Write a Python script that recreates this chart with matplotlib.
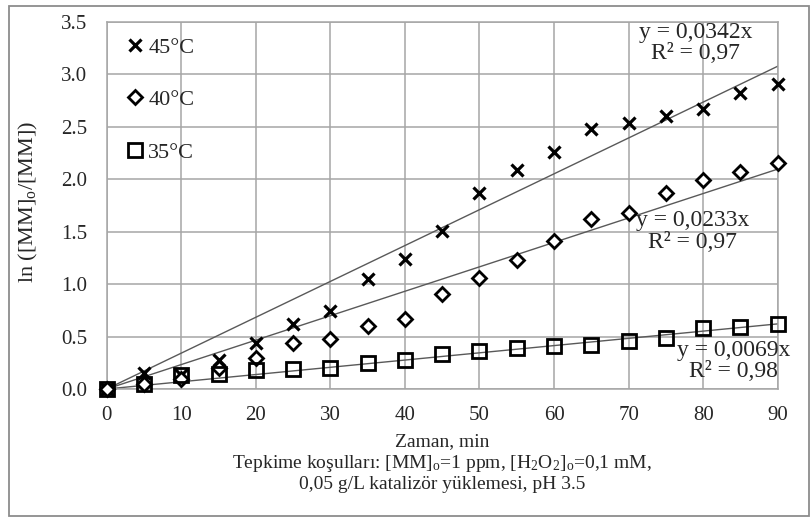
import matplotlib
matplotlib.use("Agg")
import matplotlib.pyplot as plt
import numpy as np
from matplotlib.patches import Rectangle

plt.rcParams['font.family'] = ['Liberation Serif', 'DejaVu Serif']
plt.rcParams['mathtext.fontset'] = 'custom'
plt.rcParams['mathtext.rm'] = 'Liberation Serif'
plt.rcParams['mathtext.it'] = 'Liberation Serif:italic'

time_min = [0, 5, 10, 15, 20, 25, 30, 35, 40, 45, 50, 55, 60, 65, 70, 75, 80, 85, 90]
ln_45 = [0, 0.15, 0.13, 0.28, 0.44, 0.62, 0.74, 1.05, 1.24, 1.51, 1.87, 2.09, 2.26,
         2.48, 2.54, 2.60, 2.67, 2.82, 2.91]
ln_40 = [0, 0.05, 0.10, 0.20, 0.30, 0.44, 0.48, 0.60, 0.67, 0.91, 1.06, 1.23, 1.41,
         1.62, 1.68, 1.87, 1.99, 2.07, 2.16]
ln_35 = [0, 0.05, 0.13, 0.14, 0.18, 0.19, 0.20, 0.25, 0.28, 0.33, 0.36, 0.39, 0.41,
         0.42, 0.46, 0.49, 0.58, 0.59, 0.62]
labels = ['45°C', '40°C', '35°C']
slopes = [0.0342, 0.0233, 0.0069]
eq_texts = ['y = 0,0342x\nR² = 0,97', 'y = 0,0233x\nR² = 0,97', 'y = 0,0069x\nR² = 0,98']
x_ticks = [0, 10, 20, 30, 40, 50, 60, 70, 80, 90]
y_ticks = [0.0, 0.5, 1.0, 1.5, 2.0, 2.5, 3.0, 3.5]

W, H = 810, 518
fig = plt.figure(figsize=(W / 100, H / 100), dpi=100)
ax = fig.add_axes([106.7 / W, 1 - 389 / H, (777.7 - 106.7) / W, (389 - 22) / H])

grid_c = '#a6a6a6'
text_c = '#262626'
ax.set_xlim(0, 90)
ax.set_ylim(0, 3.5)
ax.set_xticks(x_ticks)
ax.set_yticks(y_ticks)
ax.set_xticklabels([str(v) for v in x_ticks])
ax.set_yticklabels([f'{v:.1f}' for v in y_ticks])
ax.grid(True, color=grid_c, linewidth=1.1)
ax.set_axisbelow(True)
for s in ax.spines.values():
    s.set_color(grid_c)
    s.set_linewidth(1.1)
ax.tick_params(length=0, labelsize=15, colors=text_c)
ax.tick_params(axis='y', pad=14)
ax.tick_params(axis='x', pad=12)

xs = np.array(time_min, dtype=float)
line_x = np.array([0, 90])
for k in slopes:
    ax.plot(line_x, k * line_x, color='#595959', linewidth=1.0, zorder=2)

ax.plot(xs, ln_45, linestyle='none', marker='x', markersize=9, mew=2.3,
        color='black', label=labels[0], clip_on=False, zorder=3)
ax.plot(xs, ln_40, linestyle='none', marker='D', markersize=7, mew=2.0,
        markerfacecolor='white', markeredgecolor='black', label=labels[1], clip_on=False, zorder=3)
ax.plot(xs, ln_35, linestyle='none', marker='s', markersize=10, mew=2.0,
        markerfacecolor='none', markeredgecolor='black', label=labels[2], clip_on=False, zorder=3)

leg = ax.legend(loc='upper left', bbox_to_anchor=(0.0156, 0.983), frameon=False,
                fontsize=16, handlelength=0.8, handletextpad=0.2, labelspacing=1.44,
                borderaxespad=0.0)
for t in leg.get_texts():
    t.set_color(text_c)

eq_pos = [(79.0, 3.30), (78.6, 1.50), (84.1, 0.267)]
for (ex, ey), txt in zip(eq_pos, eq_texts):
    ax.text(ex, ey, txt, ha='center', va='center', fontsize=17,
            color=text_c, linespacing=1.05)

fig.text(28 / W, 1 - 202 / H, r'ln ([MM]$_\mathrm{o}$/[MM])', rotation=90,
         ha='center', va='center', fontsize=16, color=text_c)
fig.text(442 / W, 1 - 463 / H,
         'Zaman, min\n'
         r'Tepkime koşulları: [MM]$_\mathrm{o}$=1 ppm, [H$_\mathrm{2}$O$_\mathrm{2}$]$_\mathrm{o}$=0,1 mM,'
         '\n0,05 g/L katalizör yüklemesi, pH 3.5',
         ha='center', va='center', fontsize=14, color=text_c, linespacing=1.2,
         multialignment='center')

fig.patches.append(Rectangle((8.5 / W, 2.5 / H), (808.5 - 8.5) / W, (514 - 4) / H,
                             transform=fig.transFigure, fill=False,
                             edgecolor='#8c8c8c', linewidth=1.3))

fig.savefig('out.png', dpi=100)
